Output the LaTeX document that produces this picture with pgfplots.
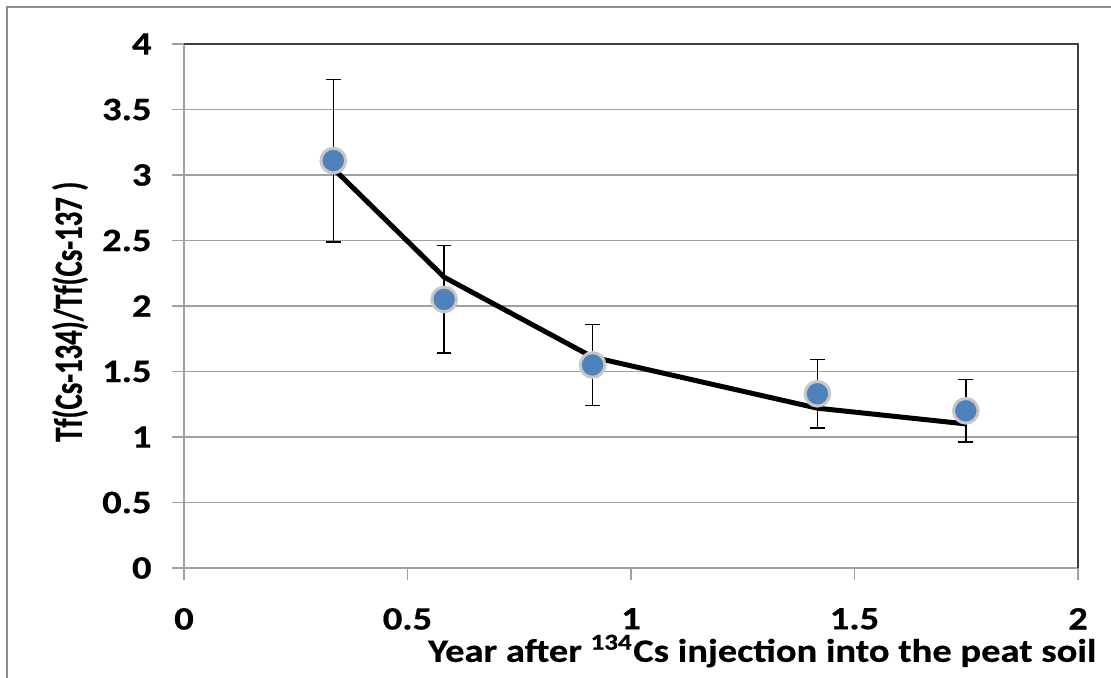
\documentclass[border=0pt]{standalone}
\usepackage{pgfplots}
\pgfplotsset{compat=1.18}
\usepackage{fontspec}
\setmainfont{Carlito}[FakeStretch=1.18, BoldFeatures={FakeBold=0.5}]
\newfontfamily\yfont{Carlito}[FakeStretch=0.72, BoldFeatures={FakeBold=0.6}]
\definecolor{markBlue}{HTML}{4F81BD}
\definecolor{gridGray}{HTML}{A0A0A0}
\definecolor{frameGray}{HTML}{8C8C8C}
\newcommand{\lbl}{\fontsize{9.8}{11.5}\selectfont\bfseries}

\begin{document}
\begin{tikzpicture}
% page = 1111 x 677 px at 0.3pt per px, axis origin at px (184,568)
\useasboundingbox (-55.2pt,-32.7pt) rectangle (278.1pt,170.4pt);
\draw[frameGray, line width=0.8pt] (-53.1pt,-60pt) -- (-53.1pt,168.3pt) -- (300pt,168.3pt);

\begin{axis}[
    scale only axis,
    width=268.2pt, height=157.2pt,
    xmin=0, xmax=2, ymin=0, ymax=4,
    xtick={0,0.5,1,1.5,2},
    ytick={0,0.5,1,1.5,2,2.5,3,3.5,4},
    ymajorgrids,
    grid style={gridGray, line width=0.45pt},
    axis line style={gridGray, line width=0.45pt},
    tick style={gridGray, line width=0.45pt},
    tick align=outside,
    xtick pos=bottom, ytick pos=left,
    major tick length=3.5pt,
    /pgf/number format/assume math mode=true,
    /pgf/number format/fixed,
    tick label style={font=\lbl},
    xticklabel style={yshift=-5pt},
    yticklabel style={xshift=-2.7pt},
    xlabel={Year after \textsuperscript{134}Cs injection into the peat soil},
    xlabel style={font=\lbl, at={(rel axis cs:1.0336,0)}, anchor=east, yshift=-24.9pt},
    ylabel={Tf(Cs-134)/Tf(Cs-137 )},
    ylabel style={font=\yfont\fontsize{12}{14}\selectfont\bfseries,
        at={(rel axis cs:0,0.489)}, anchor=center, yshift=34.2pt},
    clip=false,
]
% dark border on top and right of the plot area
\draw[black!75, line width=0.6pt] (rel axis cs:0,1) -- (rel axis cs:1,1) -- (rel axis cs:1,0);

% fitted curve
\addplot[black, line width=1.5pt, mark=none] coordinates {
    (0.334, 3.05)
    (0.582, 2.22)
    (0.914, 1.61)
    (1.417, 1.22)
    (1.749, 1.10)
};

% measured ratio with error bars
\addplot[only marks, mark=*, mark size=3.7pt,
    mark options={fill=markBlue, draw=black!22, line width=0.9pt},
    error bars/.cd, y dir=both, y explicit,
    error bar style={black, line width=0.45pt},
    error mark options={black, line width=0.45pt, mark size=2.2pt, rotate=90},
] coordinates {
    (0.334, 3.11) +- (0, 0.62)
    (0.582, 2.05) +- (0, 0.41)
    (0.914, 1.55) +- (0, 0.31)
    (1.417, 1.33) +- (0, 0.26)
    (1.749, 1.20) +- (0, 0.24)
};
\end{axis}
\end{tikzpicture}
\end{document}
